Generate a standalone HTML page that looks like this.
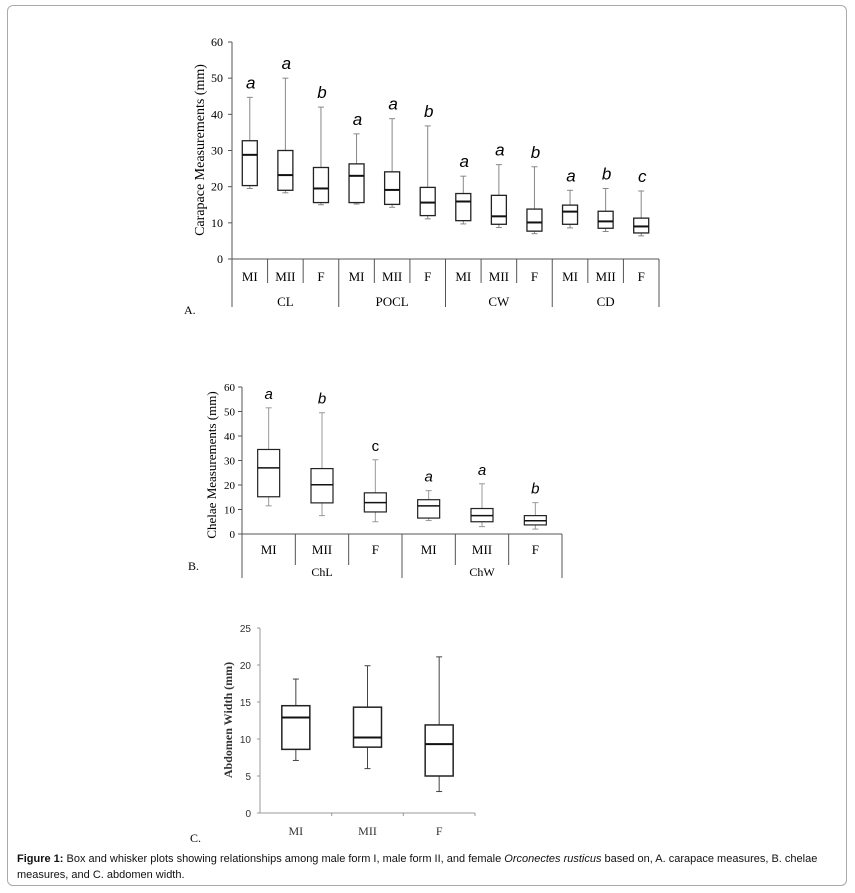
<!DOCTYPE html>
<html><head><meta charset="utf-8"><style>
body{margin:0;background:#fff;width:855px;height:893px;overflow:hidden;position:relative}
#frame{position:absolute;left:7px;top:5px;width:840px;height:881px;border:1px solid #aaa;border-radius:6px;box-sizing:border-box}
#cap{position:absolute;left:17px;top:851px;width:830px;font:11px "Liberation Sans",sans-serif;line-height:16px;color:#111}
svg{position:absolute;left:0;top:0}
</style></head><body>
<div id="frame"></div>
<svg id="s" width="855" height="893"></svg>
<div id="cap"><b>Figure 1:</b> Box and whisker plots showing relationships among male form I, male form II, and female <i>Orconectes rusticus</i> based on, A. carapace measures, B. chelae measures, and C. abdomen width.</div>
<script>
// Chart A data
const aGroups=["CL","POCL","CW","CD"];
const aSubs=["MI","MII","F"];
const aMin=[19.5,18.3,15,15.2,14.3,11.1,9.7,8.7,7,8.6,7.6,6.4];
const aQ1=[20.3,19,15.6,15.6,15.1,12,10.6,9.6,7.7,9.6,8.5,7.2];
const aMed=[28.8,23.2,19.5,23,19.1,15.6,15.9,11.8,10.1,13.1,10.4,9];
const aQ3=[32.7,30,25.3,26.3,24.1,19.8,18.1,17.6,13.8,14.9,13.2,11.3];
const aMax=[44.7,50,42,34.6,38.8,36.8,22.9,26.1,25.5,19,19.5,18.8];
const aLetters=["a","a","b","a","a","b","a","a","b","a","b","c"];
const aTicks=[0,10,20,30,40,50,60];
// Chart B data
const bGroups=["ChL","ChW"];
const bSubs=["MI","MII","F"];
const bMin=[11.5,7.5,5,5.5,3,2];
const bQ1=[15.2,12.7,9,6.5,5,3.7];
const bMed=[27,20.1,12.8,11.5,7.5,5.4];
const bQ3=[34.5,26.7,16.8,14,10.4,7.5];
const bMax=[51.5,49.5,30.3,17.7,20.5,12.8];
const bLetters=["a","b","c","a","a","b"];
const bTicks=[0,10,20,30,40,50,60];
// Chart C data
const cCats=["MI","MII","F"];
const cMin=[7.1,6,2.9];
const cQ1=[8.6,8.9,5];
const cMed=[12.9,10.2,9.3];
const cQ3=[14.5,14.3,11.9];
const cMax=[18.1,19.9,21.1];
const cTicks=[0,5,10,15,20,25];

const S=document.getElementById('s');
const NS="http://www.w3.org/2000/svg";
function el(t,a,txt){const e=document.createElementNS(NS,t);for(const k in a)e.setAttribute(k,a[k]);if(txt!==undefined)e.textContent=txt;S.appendChild(e);return e;}
function ln(x1,y1,x2,y2,c,w){return el('line',{x1,y1,x2,y2,stroke:c||'#000','stroke-width':w||1});}
function box(x,bw,sy,mn,q1,md,q3,mx,wc,lw,mw){
  let e=ln(x,sy(mx),x,sy(q3),wc,1);
  e=ln(x,sy(q1),x,sy(mn),wc,1);
  ln(x-3,sy(mx),x+3,sy(mx),wc,1);ln(x-3,sy(mn),x+3,sy(mn),wc,1);
  e=el('rect',{x:x-bw/2,y:sy(q3),width:bw,height:sy(q1)-sy(q3),fill:'#fff',stroke:'#222','stroke-width':lw});
  
  e=ln(x-bw/2,sy(md),x+bw/2,sy(md),'#111',mw);
  
}
const serif='"Liberation Serif",serif', sans='"Liberation Sans",sans-serif';

// ---- Chart A ----
(function(){
 const x0=232,x1=659,y0=259,yt=42,ymax=60;
 const sy=v=>y0-(v/ymax)*(y0-yt);
 const n=aMin.length,cw=(x1-x0)/n;
 ln(x0,yt,x0,307,'#555');ln(x0,y0,x1,y0,'#555');ln(x1,y0,x1,307,'#555');
 aTicks.forEach(t=>{ln(x0-4,sy(t),x0,sy(t),'#555');let e=el('text',{x:x0-9,y:sy(t)+4,'text-anchor':'end','font-family':serif,'font-size':12},t);});
 for(let i=1;i<n;i++){const x=x0+i*cw;ln(x,y0,x,i%3==0?307:283,'#555');}
 for(let i=0;i<n;i++){
  const cx=x0+(i+0.5)*cw;
  box(cx,15,sy,aMin[i],aQ1[i],aMed[i],aQ3[i],aMax[i],'#888',1.3,2);
  let e=el('text',{x:cx+1,y:sy(aMax[i])-9,'text-anchor':'middle','font-family':sans,'font-size':17,'font-style':'italic'},aLetters[i]);
  
  e=el('text',{x:cx,y:281,'text-anchor':'middle','font-family':serif,'font-size':13},aSubs[i%3]);
  
 }
 aGroups.forEach((g,j)=>{let e=el('text',{x:x0+(j*3+1.5)*cw,y:306,'text-anchor':'middle','font-family':serif,'font-size':13},g);});
 let e=el('text',{transform:'translate(204,150) rotate(-90)','text-anchor':'middle','font-family':serif,'font-size':14},'Carapace Measurements (mm)');
 
 el('text',{x:184,y:314,'font-family':serif,'font-size':12},'A.');
})();

// ---- Chart B ----
(function(){
 const x0=242,x1=562,y0=534,yt=387,ymax=60;
 const sy=v=>y0-(v/ymax)*(y0-yt);
 const n=bMin.length,cw=(x1-x0)/n;
 ln(x0,yt,x0,578,'#555');ln(x0,y0,x1,y0,'#555');ln(x1,y0,x1,578,'#555');
 bTicks.forEach(t=>{ln(x0-4,sy(t),x0,sy(t),'#555');let e=el('text',{x:x0-7,y:sy(t)+4,'text-anchor':'end','font-family':serif,'font-size':11},t);});
 for(let i=1;i<n;i++){const x=x0+i*cw;ln(x,y0,x,i%3==0?578:565,'#555');}
 for(let i=0;i<n;i++){
  const cx=x0+(i+0.5)*cw;
  box(cx,22,sy,bMin[i],bQ1[i],bMed[i],bQ3[i],bMax[i],'#999',1.2,1.5);
  let e=el('text',{x:cx,y:sy(bMax[i])-9,'text-anchor':'middle','font-family':sans,'font-size':15,'font-style':i==2?'normal':'italic'},bLetters[i]);
  
  e=el('text',{x:cx,y:554,'text-anchor':'middle','font-family':serif,'font-size':13},bSubs[i%3]);
  
 }
 bGroups.forEach((g,j)=>{let e=el('text',{x:x0+(j*3+1.5)*cw,y:576,'text-anchor':'middle','font-family':serif,'font-size':12},g);});
 let e=el('text',{transform:'translate(216,465) rotate(-90)','text-anchor':'middle','font-family':serif,'font-size':13},'Chelae Measurements (mm)');
 
 el('text',{x:188,y:570,'font-family':serif,'font-size':12},'B.');
})();

// ---- Chart C ----
(function(){
 const x0=260,x1=475,y0=813,yt=628,ymax=25;
 const sy=v=>y0-(v/ymax)*(y0-yt);
 const cw=(x1-x0)/cCats.length;
 ln(x0,yt,x0,y0,'#999');ln(x0,y0,x1,y0,'#999');
 cTicks.forEach(t=>{ln(x0-3,sy(t),x0,sy(t),'#999');let e=el('text',{x:x0-9,y:sy(t)+4,'text-anchor':'end','font-family':sans,'font-size':10,fill:'#333'},t);});
 for(let i=1;i<=cCats.length;i++)ln(x0+i*cw,y0,x0+i*cw,y0+3,'#999');
 cCats.forEach((c,i)=>{
  const cx=x0+(i+0.5)*cw;
  box(cx,28,sy,cMin[i],cQ1[i],cMed[i],cQ3[i],cMax[i],'#444',1.5,2);
  let e=el('text',{x:cx,y:835,'text-anchor':'middle','font-family':serif,'font-size':12,fill:'#333'},c);
  
 });
 let e=el('text',{transform:'translate(232,720) rotate(-90)','text-anchor':'middle','font-family':serif,'font-size':12,'font-weight':'bold',fill:'#333'},'Abdomen Width (mm)');
 
 el('text',{x:190,y:842,'font-family':serif,'font-size':12},'C.');
})();
</script>
</body></html>
